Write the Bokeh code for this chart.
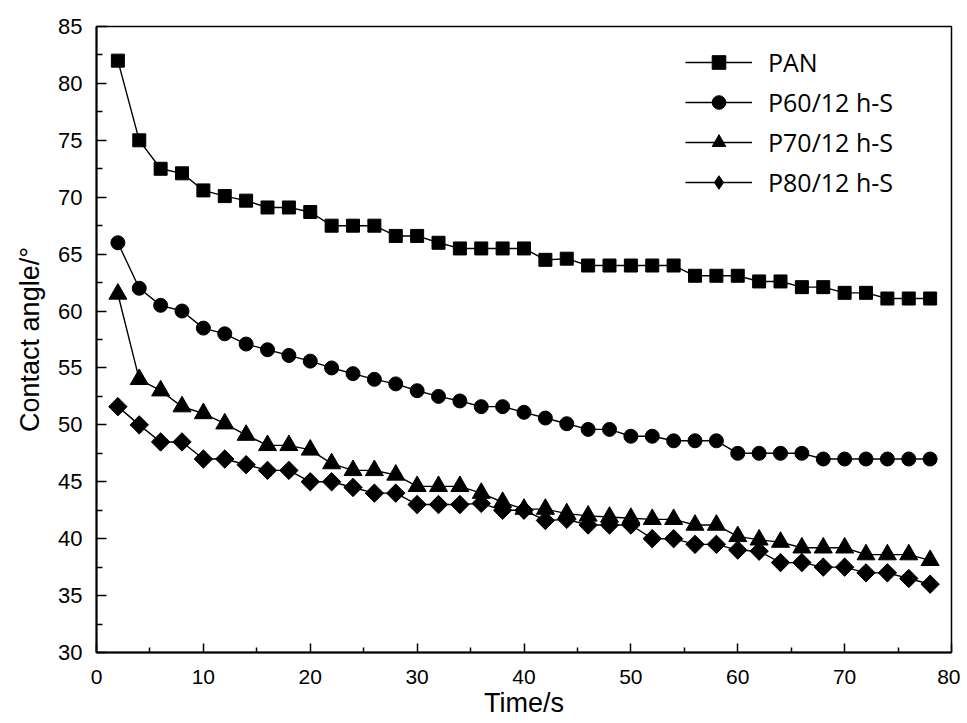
import math
from bokeh.plotting import figure
from bokeh.models import Range1d, FixedTicker, Legend, LegendItem
from bokeh.embed import file_html
from bokeh.resources import INLINE

time_s = [2, 4, 6, 8, 10, 12, 14, 16, 18, 20, 22, 24, 26, 28, 30, 32, 34, 36, 38, 40,
          42, 44, 46, 48, 50, 52, 54, 56, 58, 60, 62, 64, 66, 68, 70, 72, 74, 76, 78]

pan = [82.0, 75.0, 72.5, 72.1, 70.6, 70.1, 69.7, 69.1, 69.1, 68.7, 67.5, 67.5, 67.5, 66.6, 66.6, 66.0, 65.5, 65.5, 65.5, 65.5,
       64.5, 64.6, 64.0, 64.0, 64.0, 64.0, 64.0, 63.1, 63.1, 63.1, 62.6, 62.6, 62.1, 62.1, 61.6, 61.6, 61.1, 61.1, 61.1]
p60 = [66.0, 62.0, 60.5, 60.0, 58.5, 58.0, 57.1, 56.6, 56.1, 55.6, 55.0, 54.5, 54.0, 53.6, 53.0, 52.5, 52.1, 51.6, 51.6, 51.1,
       50.6, 50.1, 49.6, 49.6, 49.0, 49.0, 48.6, 48.6, 48.6, 47.5, 47.5, 47.5, 47.5, 47.0, 47.0, 47.0, 47.0, 47.0, 47.0]
p70 = [61.5, 54.0, 53.0, 51.6, 51.0, 50.1, 49.1, 48.2, 48.2, 47.8, 46.6, 46.0, 46.0, 45.6, 44.6, 44.6, 44.6, 44.0, 43.2, 42.6,
       42.6, 42.2, 42.0, 41.9, 41.8, 41.7, 41.7, 41.2, 41.2, 40.2, 39.9, 39.7, 39.2, 39.2, 39.2, 38.6, 38.6, 38.6, 38.1]
p80 = [51.6, 50.0, 48.5, 48.5, 47.0, 47.0, 46.5, 46.0, 46.0, 45.0, 45.0, 44.5, 44.0, 44.0, 43.0, 43.0, 43.0, 43.1, 42.5, 42.5,
       41.6, 41.7, 41.2, 41.2, 41.2, 40.0, 40.0, 39.5, 39.5, 39.0, 38.9, 37.9, 37.9, 37.5, 37.5, 37.0, 37.0, 36.5, 36.0]

series_names = ["PAN", "P60/12 h-S", "P70/12 h-S", "P80/12 h-S"]
series_values = [pan, p60, p70, p80]
markers = ["square", "circle", "triangle", "square"]
legend_markers = ["square", "circle", "triangle", "diamond"]
marker_angles = [0, 0, 0, math.pi / 4]
marker_sizes = [13, 14, 18, 13]

x_ticks = [0, 10, 20, 30, 40, 50, 60, 70, 80]
y_ticks = [30, 35, 40, 45, 50, 55, 60, 65, 70, 75, 80, 85]

p = figure(width=960, height=720, output_backend="svg", toolbar_location=None,
           x_range=Range1d(0, 80), y_range=Range1d(30, 85),
           min_border_left=96, min_border_right=9, min_border_top=26, min_border_bottom=61)

p.grid.visible = False
p.outline_line_color = "black"
p.outline_line_width = 1.5
p.background_fill_color = "white"
p.border_fill_color = "white"

items = []
for name, vals, mk, lmk, ang, ms in zip(series_names, series_values, markers, legend_markers,
                                         marker_angles, marker_sizes):
    r1 = p.line(time_s, vals, line_color="black", line_width=1.4)
    r2 = p.scatter(time_s, vals, marker=mk, size=ms, angle=ang, fill_color="black", line_color="black")
    if lmk == mk:
        items.append(LegendItem(label=name, renderers=[r1, r2]))
    else:
        # diamond drawn on the same points, hidden inside the rotated square; used for the legend key
        r3 = p.scatter(time_s, vals, marker=lmk, size=17, fill_color="black", line_color="black")
        items.append(LegendItem(label=name, renderers=[r1, r3]))

legend = Legend(items=items, location=(589, 453))
legend.border_line_color = None
legend.background_fill_alpha = 0
legend.padding = 0
legend.margin = 0
legend.glyph_width = 67
legend.glyph_height = 34
legend.label_height = 34
legend.spacing = 6
legend.label_standoff = 16
legend.label_text_font = "Open Sans"
legend.label_text_font_size = "25px"
legend.label_text_color = "black"
p.add_layout(legend)

xa = p.xaxis[0]
xa.ticker = FixedTicker(ticks=x_ticks, minor_ticks=[5, 15, 25, 35, 45, 55, 65, 75])
xa.major_tick_in = 9
xa.major_tick_out = 0
xa.minor_tick_in = 5
xa.minor_tick_out = 0
xa.axis_line_width = 2
xa.major_tick_line_width = 1.5
xa.minor_tick_line_width = 1.5
xa.major_label_standoff = 17
xa.major_label_text_font = "Liberation Sans"
xa.major_label_text_font_size = "21px"
xa.major_label_text_color = "black"
xa.axis_label = "Time/s"
xa.axis_label_text_font = "Liberation Sans"
xa.axis_label_text_font_size = "27px"
xa.axis_label_text_font_style = "normal"
xa.axis_label_text_color = "black"
xa.axis_label_standoff = 1

ya = p.yaxis[0]
ya.ticker = FixedTicker(ticks=y_ticks, minor_ticks=[32.5, 37.5, 42.5, 47.5, 52.5, 57.5, 62.5, 67.5, 72.5, 77.5, 82.5])
ya.major_tick_in = 10
ya.major_tick_out = 0
ya.minor_tick_in = 6
ya.minor_tick_out = 0
ya.axis_line_width = 2
ya.major_tick_line_width = 1.5
ya.minor_tick_line_width = 1.5
ya.major_label_standoff = 14
ya.major_label_text_font = "Liberation Sans"
ya.major_label_text_font_size = "22px"
ya.major_label_text_color = "black"
ya.axis_label = "Contact angle/\u00b0"
ya.axis_label_text_font = "Liberation Sans"
ya.axis_label_text_font_size = "27px"
ya.axis_label_text_font_style = "normal"
ya.axis_label_text_color = "black"
ya.axis_label_standoff = 10

open("out.html", "w").write(file_html(p, INLINE))
